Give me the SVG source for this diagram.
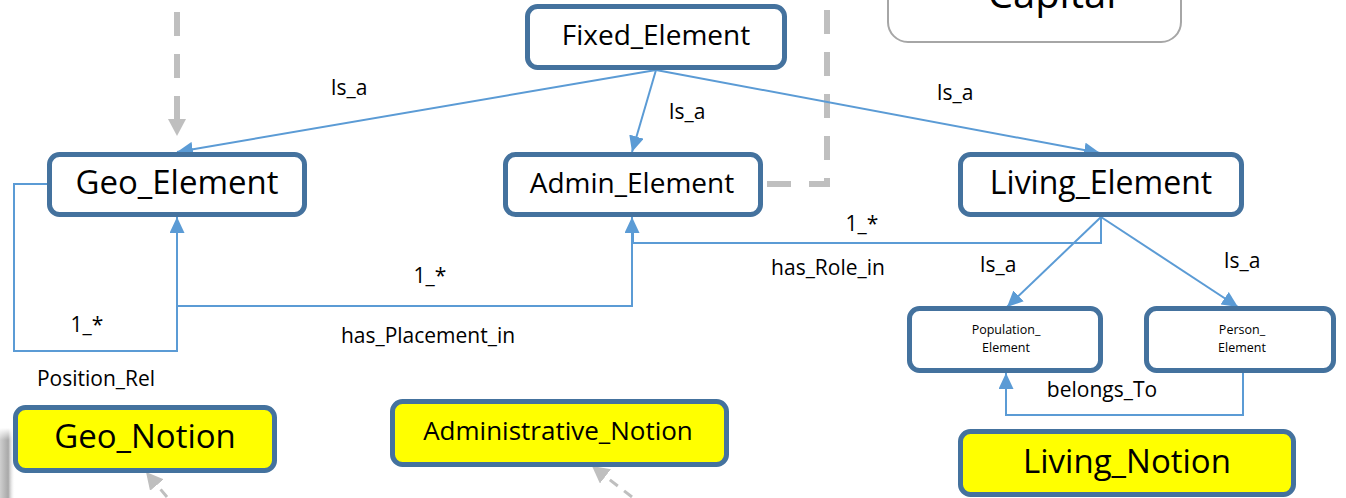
<svg xmlns="http://www.w3.org/2000/svg" width="1346" height="498" viewBox="0 0 1346 498">
<style>
.node{fill:#fff;stroke:#44729e;stroke-width:5}
.notion{fill:#ffff00;stroke:#44729e;stroke-width:5}
.t{font-family:"Open Sans","Liberation Sans",sans-serif;fill:#000;text-anchor:middle}
.lbl{font-family:"Open Sans","Liberation Sans",sans-serif;fill:#000;text-anchor:middle;font-size:21px}
.rel{fill:none;stroke:#5b9bd5;stroke-width:2}
.dash{fill:none;stroke:#bfbfbf;stroke-width:6;stroke-dasharray:24 18}
.dash2{fill:none;stroke:#bfbfbf;stroke-width:3;stroke-dasharray:10 8}
</style>
<defs>
<marker id="ab" markerUnits="userSpaceOnUse" markerWidth="17" markerHeight="15" refX="16" refY="7.5" orient="auto"><path d="M0,0 L16,7.5 L0,15 z" fill="#5b9bd5"/></marker>
<marker id="ag" markerUnits="userSpaceOnUse" markerWidth="18" markerHeight="18" refX="17" refY="9" orient="auto"><path d="M0,0 L17,9 L0,18 z" fill="#bfbfbf"/></marker>
<linearGradient id="sh" x1="0" y1="0" x2="1" y2="0"><stop offset="0" stop-color="#cfcfcf"/><stop offset="0.55" stop-color="#a8a8a8"/><stop offset="1" stop-color="#fff" stop-opacity="0"/></linearGradient>
<linearGradient id="shv" x1="0" y1="0" x2="0" y2="1"><stop offset="0" stop-color="#fff"/><stop offset="1" stop-color="#fff" stop-opacity="0"/></linearGradient>
</defs>
<rect x="0" y="428" width="15" height="70" fill="url(#sh)"/>
<rect x="0" y="428" width="15" height="12" fill="url(#shv)"/>
<g id="connectors">
<path class="dash" d="M177,12 V136" marker-end="url(#ag)"/>
<path class="dash" d="M827,10 V184 H765"/>
<path class="dash2" d="M167,497 L146,472" marker-end="url(#ag)"/>
<path class="dash2" d="M632,497 L592,466" marker-end="url(#ag)"/>
<path class="rel" d="M656,70 L177,152" marker-end="url(#ab)"/>
<path class="rel" d="M656,70 L632,152" marker-end="url(#ab)"/>
<path class="rel" d="M656,70 L1100,153" marker-end="url(#ab)"/>
<path class="rel" d="M47,184 H14 V351 H177 V217" marker-end="url(#ab)"/>
<path class="rel" d="M177,306 H632 V217" marker-end="url(#ab)"/>
<path class="rel" d="M1101,217 V243 H633 V230"/>
<path class="rel" d="M1101,217 L1007,307" marker-end="url(#ab)"/>
<path class="rel" d="M1101,217 L1238,307" marker-end="url(#ab)"/>
<path class="rel" d="M1243,373 V415 H1006 V373" marker-end="url(#ab)"/>
<text class="lbl" x="349" y="95">Is_a</text>
<text class="lbl" x="687" y="119">Is_a</text>
<text class="lbl" x="955" y="100">Is_a</text>
<text class="lbl" x="998" y="272">Is_a</text>
<text class="lbl" x="1242" y="268">Is_a</text>
<text class="lbl" x="862" y="231">1_*</text>
<text class="lbl" x="828" y="275">has_Role_in</text>
<text class="lbl" x="87" y="332">1_*</text>
<text class="lbl" x="430" y="283">1_*</text>
<text class="lbl" x="428" y="343">has_Placement_in</text>
<text class="lbl" x="96" y="386">Position_Rel</text>
<text class="lbl" x="1102" y="397">belongs_To</text>
</g>
<g id="capital">
<rect x="888" y="-30" width="293" height="72" rx="20" fill="#fff" stroke="#a6a6a6" stroke-width="2"/>
<text class="t" x="1052" y="8" font-size="40">Capital</text>
</g>
<g id="fixed_element">
<rect class="node" x="527.5" y="6.5" width="257" height="61" rx="10"/>
<text class="t" x="656" y="45" font-size="28">Fixed_Element</text>
</g>
<g id="geo_element">
<rect class="node" x="49.5" y="154.5" width="255" height="60" rx="10"/>
<text class="t" x="177" y="194" font-size="33">Geo_Element</text>
</g>
<g id="admin_element">
<rect class="node" x="505.5" y="154.5" width="255" height="60" rx="10"/>
<text class="t" x="632" y="193" font-size="28">Admin_Element</text>
</g>
<g id="living_element">
<rect class="node" x="960.5" y="154.5" width="281" height="60" rx="10"/>
<text class="t" x="1101" y="194" font-size="32">Living_Element</text>
</g>
<g id="population_element">
<rect class="node" x="909.5" y="308.5" width="191" height="62" rx="10"/>
<text class="t" font-size="12.5"><tspan x="1006" y="334">Population_</tspan><tspan x="1006" y="352">Element</tspan></text>
</g>
<g id="person_element">
<rect class="node" x="1146.5" y="308.5" width="187" height="62" rx="10"/>
<text class="t" font-size="12.5"><tspan x="1242" y="334">Person_</tspan><tspan x="1242" y="352">Element</tspan></text>
</g>
<g id="geo_notion">
<rect class="notion" x="15.5" y="407.5" width="259" height="63" rx="10"/>
<text class="t" x="145" y="448" font-size="33">Geo_Notion</text>
</g>
<g id="administrative_notion">
<rect class="notion" x="392.5" y="401.5" width="334" height="63" rx="10"/>
<text class="t" x="558" y="440" font-size="26">Administrative_Notion</text>
</g>
<g id="living_notion">
<rect class="notion" x="960.5" y="431.5" width="333" height="63" rx="10"/>
<text class="t" x="1127" y="473" font-size="33">Living_Notion</text>
</g>
</svg>
